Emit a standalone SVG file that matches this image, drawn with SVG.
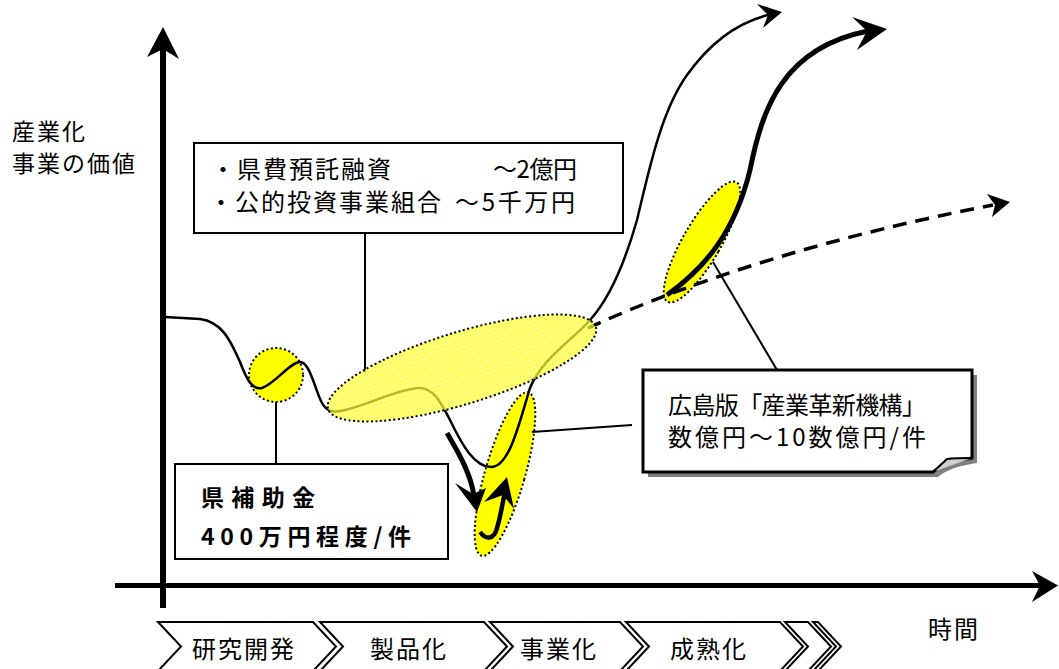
<svg xmlns="http://www.w3.org/2000/svg" width="1059" height="669" viewBox="0 0 1059 669">
<style>
text{font-family:"Noto Sans CJK JP","Noto Sans",sans-serif;fill:#000}
.t24{font-size:24px;letter-spacing:2px}
.t23{font-size:23px;letter-spacing:2px}
.bold{font-size:23px;font-weight:bold}
.box{fill:#fff;stroke:#000;stroke-width:2}
.conn{fill:none;stroke:#000;stroke-width:2}
.yel{fill:#ffff00;stroke:#000;stroke-width:2;stroke-dasharray:2 2.5}
.dot{fill:none;stroke:#000;stroke-width:2;stroke-dasharray:2 2.5}
.chev{fill:#fff;stroke:#000;stroke-width:2}
</style>
<defs>
<pattern id="grid" width="4" height="4" patternUnits="userSpaceOnUse">
<rect width="4" height="4" fill="#ffff00"/>
<path d="M0,0.5H4M0.5,0V4" stroke="#ffffff" stroke-width="1" opacity="0.5"/>
</pattern>
</defs>
<rect width="1059" height="669" fill="#fff"/>

<g id="axes">
<line x1="163" y1="608" x2="163" y2="45" stroke="#000" stroke-width="6"/>
<polygon points="163,27 179,59 163,49 147,57" fill="#000"/>
<line x1="115" y1="585.5" x2="1042" y2="585.5" stroke="#000" stroke-width="5"/>
<polygon points="1058,585.5 1032,571 1040,585.5 1032,602" fill="#000"/>
<text class="t23" x="12" y="140">産業化</text>
<text class="t23" x="12" y="172">事業の価値</text>
<text class="t24" x="928" y="638">時間</text>
</g>

<g id="highlights-solid">
<circle class="yel" cx="276" cy="375" r="27"/>
<ellipse class="yel" cx="505" cy="474" rx="20" ry="85" transform="rotate(16 505 474)"/>
<ellipse class="yel" cx="702" cy="242" rx="19" ry="69" transform="rotate(30 702 242)"/>
</g>

<g id="connectors">
<line class="conn" x1="365" y1="233" x2="365" y2="372"/>
<line class="conn" x1="276" y1="402" x2="276" y2="464"/>
<line class="conn" x1="532" y1="432" x2="632" y2="425"/>
<line class="conn" x1="713" y1="262" x2="777" y2="370"/>
</g>

<g id="curves">
<path fill="none" stroke="#000" stroke-width="2.5" d="M165,317 L200,319 C224,322 232,345 240,362 C247,380 252,390 262,388 C275,384 290,362 300,362 C310,362 315,390 322,403 C327,412 333,413 345,410 C370,404 395,390 418,388 C432,387 440,400 450,420 C462,445 475,468 492,467 C510,466 520,420 530,388 C542,358 575,338 590,320 C612,296 627,255 637,220 C650,165 662,110 687,75 C712,40 740,22 768,15"/>
<polygon points="782,12 757,4 768,15 763,28" fill="#000"/>
<path fill="none" stroke="#000" stroke-width="3.5" stroke-dasharray="14 9" d="M588,328 Q760,250 993,205"/>
<polygon points="1010,202 987,194 995,205 992,217" fill="#000"/>
<path fill="none" stroke="#000" stroke-width="5" d="M667,295 C705,268 735,232 750,170 C762,110 782,48 868,31"/>
<polygon points="887,29 852,17 867,31 857,50" fill="#000"/>
<path fill="none" stroke="#000" stroke-width="5" d="M447,433 C460,455 471,475 474,496"/>
<polygon points="477,512 455,483 473,494 486,488" fill="#000"/>
<path fill="none" stroke="#000" stroke-width="4.5" d="M480,532 C486,540 494,540 497,528 C501,515 503,500 505,492"/>
<polygon points="507,477 484,502 503,495 514,509" fill="#000"/>
</g>

<g id="highlight-hatched">
<ellipse cx="462" cy="368" rx="140" ry="36" transform="rotate(-17 462 368)" fill="url(#grid)" opacity="0.72"/>
<ellipse class="dot" cx="462" cy="368" rx="140" ry="36" transform="rotate(-17 462 368)"/>
</g>

<g id="box-loan">
<rect class="box" x="194" y="143" width="429" height="90"/>
<text class="t24" x="211" y="178">・県費預託融資</text>
<text class="t24" x="493" y="178" textLength="86" lengthAdjust="spacing">～2億円</text>
<text class="t24" x="209" y="211">・公的投資事業組合</text>
<text class="t24" x="455" y="211" textLength="122" lengthAdjust="spacing">～5千万円</text>
</g>

<g id="box-subsidy">
<rect class="box" x="175" y="464" width="273" height="95"/>
<text class="bold" x="201" y="506" textLength="114" lengthAdjust="spacing">県補助金</text>
<text class="bold" x="201" y="545" textLength="210" lengthAdjust="spacing">400万円程度/件</text>
</g>

<g id="box-kiko">
<path d="M648,375 H977 V463 C965,465 950,467 938,477 H648 Z" fill="#7f7f7f"/>
<path d="M643,370 H972 V458 C960,460 945,462 933,472 H643 Z" fill="#fff" stroke="#000" stroke-width="3"/>
<path d="M933,472 L947,459 C955,458 965,458 972,458" fill="#d0d0d0" stroke="#000" stroke-width="2"/>
<text x="668" y="414" font-size="24" textLength="258" lengthAdjust="spacing">広島版「産業革新機構」</text>
<text x="668" y="446" font-size="24" textLength="258" lengthAdjust="spacing">数億円～10数億円/件</text>
</g>

<g id="stages">
<polygon class="chev" points="158,622 313,622 336,646.5 313,671 158,671 181,646.5"/>
<polygon class="chev" points="320,622 484,622 507,646.5 484,671 320,671 343,646.5"/>
<polygon class="chev" points="490,622 620,622 643,646.5 620,671 490,671 513,646.5"/>
<polygon class="chev" points="626,622 780,622 803,646.5 780,671 626,671 649,646.5"/>
<polygon class="chev" points="785,622 808,622 831,646.5 808,671 785,671 808,646.5"/>
<polygon class="chev" points="813,622 818,622 841,646.5 818,671 813,671 836,646.5"/>
<text class="t24" x="192" y="658">研究開発</text>
<text class="t24" x="370" y="658">製品化</text>
<text class="t24" x="520" y="658">事業化</text>
<text class="t24" x="670" y="658">成熟化</text>
</g>
</svg>
